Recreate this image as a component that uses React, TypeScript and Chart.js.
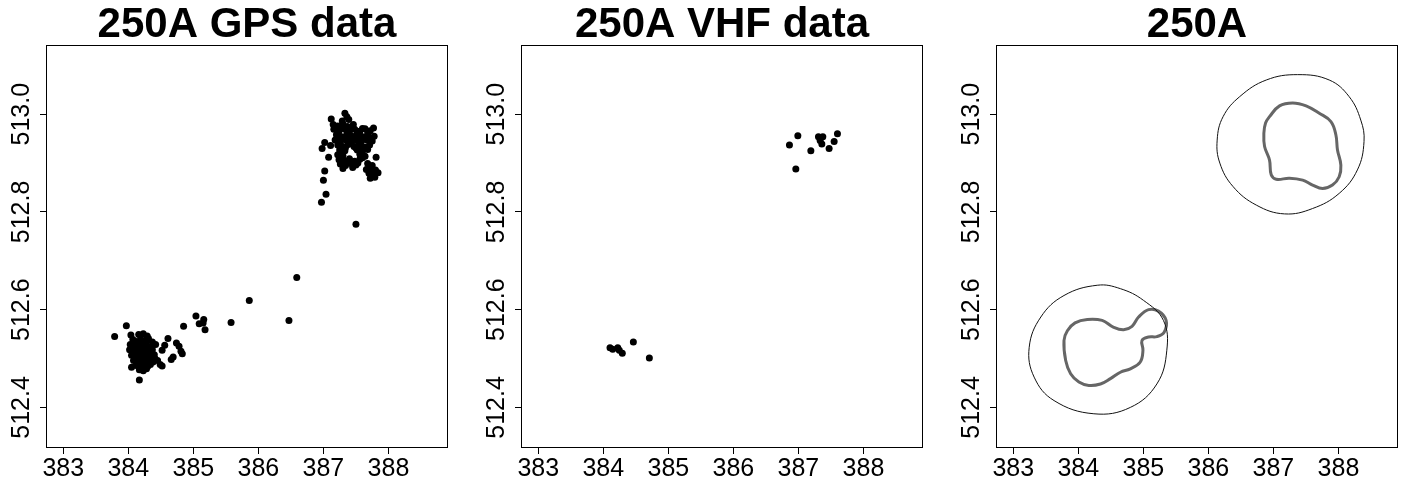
import React, { useEffect, useRef } from "react";
import { Chart, registerables } from "chart.js";
Chart.register(...registerables);

const FONT = "'Liberation Sans', Arial, sans-serif";

const titles = ["250A GPS data", "250A VHF data", "250A"];
const xTicks = [383, 384, 385, 386, 387, 388];
const yTicks = [512.4, 512.6, 512.8, 513.0];
const xRange = [382.75, 388.9];
const yRange = [512.319, 513.14];

// GPS fixes (x, y)
const gpsPoints: [number, number][] = [
  [383.79, 512.545], [383.97, 512.567], [384.04, 512.548], [384.05, 512.482], [384.17, 512.456],
  [384.16, 512.549], [384.23, 512.551], [384.29, 512.546],
  [384.07, 512.539], [384.12, 512.535], [384.19, 512.54], [384.25, 512.536], [384.31, 512.541], [384.37, 512.534],
  [384.03, 512.529], [384.1, 512.525], [384.16, 512.53], [384.22, 512.524], [384.28, 512.528], [384.34, 512.523], [384.42, 512.529],
  [384.02, 512.518], [384.07, 512.514], [384.13, 512.519], [384.19, 512.513], [384.25, 512.517], [384.31, 512.512], [384.37, 512.518],
  [384.05, 512.507], [384.11, 512.503], [384.17, 512.508], [384.23, 512.502], [384.29, 512.506], [384.35, 512.501], [384.4, 512.508],
  [384.08, 512.496], [384.14, 512.492], [384.2, 512.497], [384.26, 512.491], [384.32, 512.495], [384.38, 512.493], [384.45, 512.496],
  [384.12, 512.486], [384.18, 512.482], [384.24, 512.487], [384.3, 512.484], [384.49, 512.488], [384.52, 512.485],
  [384.17, 512.477], [384.23, 512.475], [384.28, 512.479],
  [384.1, 512.532], [384.2, 512.529], [384.27, 512.533], [384.08, 512.522], [384.16, 512.521], [384.28, 512.52],
  [384.1, 512.511], [384.21, 512.51], [384.33, 512.509], [384.13, 512.5], [384.26, 512.499], [384.35, 512.514],
  [384.16, 512.49], [384.22, 512.494], [384.34, 512.488], [384.41, 512.5],
  [384.56, 512.527], [384.52, 512.517], [384.61, 512.541], [384.74, 512.532], [384.78, 512.525], [384.81, 512.515],
  [384.83, 512.51], [384.69, 512.503], [384.66, 512.498], [384.85, 512.566],
  [385.04, 512.587], [385.09, 512.571], [385.16, 512.58], [385.15, 512.573], [385.18, 512.559],
  [385.58, 512.574], [385.86, 512.619], [386.47, 512.578], [386.59, 512.666],
  [387.5, 512.775], [386.97, 512.82], [387.04, 512.836], [387.0, 512.865], [387.02, 512.884], [387.08, 512.912],
  [386.98, 512.93], [387.02, 512.942], [387.11, 512.936], [387.12, 512.99],
  [387.33, 513.002], [387.36, 512.995], [387.29, 512.986], [387.39, 512.989],
  [387.15, 512.979], [387.22, 512.976], [387.3, 512.98], [387.37, 512.975], [387.46, 512.979],
  [387.16, 512.969], [387.24, 512.965], [387.32, 512.97], [387.4, 512.964], [387.48, 512.969], [387.56, 512.964], [387.64, 512.97], [387.72, 512.966], [387.77, 512.972],
  [387.2, 512.958], [387.28, 512.954], [387.36, 512.959], [387.44, 512.955], [387.52, 512.959], [387.6, 512.954], [387.68, 512.958], [387.78, 512.955],
  [387.18, 512.947], [387.26, 512.944], [387.34, 512.948], [387.42, 512.943], [387.5, 512.948], [387.58, 512.944], [387.66, 512.948], [387.75, 512.945],
  [387.22, 512.937], [387.3, 512.934], [387.38, 512.938], [387.47, 512.934], [387.54, 512.938], [387.62, 512.933], [387.71, 512.937],
  [387.25, 512.927], [387.33, 512.925], [387.52, 512.927], [387.6, 512.924], [387.68, 512.928],
  [387.22, 512.917], [387.3, 512.915], [387.56, 512.918], [387.64, 512.914],
  [387.24, 512.907], [387.32, 512.905], [387.4, 512.909], [387.48, 512.904], [387.56, 512.908], [387.81, 512.912],
  [387.26, 512.898], [387.34, 512.895], [387.42, 512.899], [387.5, 512.896], [387.68, 512.899], [387.75, 512.895],
  [387.3, 512.889], [387.45, 512.891], [387.66, 512.887], [387.73, 512.889], [387.8, 512.886],
  [387.7, 512.879], [387.77, 512.877], [387.84, 512.88],
  [387.72, 512.869], [387.79, 512.871],
  [387.2, 512.974], [387.28, 512.972], [387.36, 512.966], [387.44, 512.973], [387.52, 512.965], [387.6, 512.971], [387.68, 512.964],
  [387.23, 512.951], [387.31, 512.95], [387.39, 512.952], [387.47, 512.951], [387.55, 512.95], [387.63, 512.952], [387.71, 512.951],
  [387.26, 512.931], [387.34, 512.932], [387.5, 512.931], [387.58, 512.932], [387.66, 512.933], [387.43, 512.941],
  [387.29, 512.902], [387.37, 512.901], [387.45, 512.902], [387.53, 512.9], [387.27, 512.92], [387.6, 512.911],
  [387.72, 512.883], [387.79, 512.882], [387.7, 512.892],
];

// VHF fixes (x, y)
const vhfPoints: [number, number][] = [
  [384.103, 512.522], [384.145, 512.519], [384.222, 512.522], [384.246, 512.517], [384.292, 512.511],
  [384.462, 512.534], [384.708, 512.501],
  [386.862, 512.937], [386.991, 512.956], [386.96, 512.888], [387.191, 512.925], [387.308, 512.954],
  [387.375, 512.954], [387.334, 512.946], [387.36, 512.939], [387.472, 512.93], [387.549, 512.944], [387.6, 512.96],
];

// Outer (thin) and core (thick) contours, south-west and north-east
const outerSW: [number, number][] = [
  [384.291, 512.65], [384.647, 512.643], [385.003, 512.619], [385.309, 512.578], [385.361, 512.517],
  [385.208, 512.448], [384.8, 512.4], [384.239, 512.387], [383.627, 512.414], [383.321, 512.462],
  [383.245, 512.523], [383.424, 512.585], [383.78, 512.629],
];
const coreSW: [number, number][] = [
  [384.138, 512.58], [384.367, 512.578], [384.544, 512.564], [384.697, 512.559], [384.826, 512.566],
  [384.927, 512.585], [385.08, 512.6], [385.232, 512.597], [385.35, 512.578], [385.32, 512.554],
  [385.208, 512.545], [385.08, 512.544], [384.979, 512.537], [384.994, 512.517], [384.953, 512.493],
  [384.8, 512.479], [384.647, 512.472], [384.494, 512.459], [384.341, 512.448], [384.162, 512.445],
  [384.009, 512.452], [383.882, 512.469], [383.806, 512.496], [383.78, 512.537], [383.832, 512.557],
  [383.95, 512.573],
];
const outerNE: [number, number][] = [
  [387.373, 513.081], [387.858, 513.07], [388.164, 513.036], [388.343, 512.988], [388.393, 512.944],
  [388.291, 512.886], [388.011, 512.838], [387.602, 512.807], [387.17, 512.796], [386.737, 512.814],
  [386.379, 512.852], [386.176, 512.9], [386.135, 512.947], [386.226, 512.995], [386.482, 513.036],
  [386.89, 513.07],
];
const coreNE: [number, number][] = [
  [387.297, 513.023], [387.502, 513.017], [387.705, 513.002], [387.884, 512.985], [387.96, 512.958],
  [387.985, 512.927], [388.037, 512.896], [388.011, 512.872], [387.908, 512.855], [387.755, 512.848],
  [387.602, 512.855], [387.45, 512.865], [387.246, 512.869], [387.043, 512.867], [386.966, 512.876],
  [386.94, 512.906], [386.864, 512.934], [386.853, 512.961], [386.879, 512.982], [386.94, 512.995],
  [387.094, 513.017],
];

const toXY = (pts: [number, number][]) => pts.map(([x, y]) => ({ x, y }));

const dotSet = (pts: [number, number][]) => ({
  data: toXY(pts),
  pointRadius: 3.5,
  pointBackgroundColor: "#000",
  pointBorderWidth: 0,
  showLine: false,
});

// closed smooth loop: one point wrapped on each side, outer two segments hidden
const lineSet = (pts: [number, number][], color: string, width: number) => {
  const data = toXY([pts[pts.length - 1], ...pts, pts[0], pts[1]]);
  const last = data.length - 1;
  return {
    data,
    showLine: true,
    borderColor: color,
    borderWidth: width,
    pointRadius: 0,
    tension: 0.4,
    fill: false,
    segment: {
      borderColor: (c: any) =>
        c.p0DataIndex === 0 || c.p1DataIndex === last ? "rgba(0,0,0,0)" : undefined,
    },
  };
};

const panelData = [
  [dotSet(gpsPoints)],
  [dotSet(vhfPoints)],
  [
    lineSet(outerSW, "#111", 1),
    lineSet(outerNE, "#111", 1),
    lineSet(coreSW, "#666", 3),
    lineSet(coreNE, "#666", 3),
  ],
];

const boxPlugin = {
  id: "box",
  afterDraw(chart: any) {
    const { ctx, chartArea } = chart;
    ctx.save();
    ctx.strokeStyle = "#000";
    ctx.lineWidth = 1;
    ctx.strokeRect(
      Math.round(chartArea.left) - 0.5,
      Math.round(chartArea.top) - 0.5,
      Math.round(chartArea.right - chartArea.left) + 1,
      Math.round(chartArea.bottom - chartArea.top) + 1
    );
    ctx.restore();
  },
};

const PANEL_W = 475;
const H = 477;

function Panel({ index }: { index: number }) {
  const ref = useRef<HTMLCanvasElement>(null);
  const left = index * PANEL_W;
  const width = Math.min(PANEL_W, 1402 - left);
  useEffect(() => {
    const chart = new Chart(ref.current as HTMLCanvasElement, {
      type: "scatter",
      data: { datasets: panelData[index] as any },
      options: {
        animation: false,
        responsive: false,
        events: [],
        devicePixelRatio: 1,
        layout: { padding: { top: 0, right: width - 447, bottom: 0, left: 0 } },
        plugins: {
          legend: { display: false },
          tooltip: { enabled: false },
          title: {
            display: true,
            fullSize: false,
            text: titles[index],
            color: "#000",
            font: { family: FONT, size: 42, weight: "bold", lineHeight: 0.9 },
            padding: { top: 7, bottom: 1 },
          },
        },
        scales: {
          x: {
            type: "linear",
            min: xRange[0],
            max: xRange[1],
            afterBuildTicks: (s: any) => {
              s.ticks = xTicks.map((v) => ({ value: v }));
            },
            afterFit: (s: any) => {
              s.height = 30;
            },
            grid: { display: true, drawOnChartArea: false, drawTicks: true, tickLength: 7, color: "#000" },
            border: { display: false },
            ticks: {
              autoSkip: false,
              maxRotation: 0,
              color: "#000",
              padding: 0,
              font: { family: FONT, size: 25 },
              callback: (v: any) => String(v),
            },
          },
          y: {
            type: "linear",
            min: yRange[0],
            max: yRange[1],
            afterBuildTicks: (s: any) => {
              s.ticks = yTicks.map((v) => ({ value: v }));
            },
            afterFit: (s: any) => {
              s.width = 47;
            },
            grid: { display: true, drawOnChartArea: false, drawTicks: true, tickLength: 7, color: "#000" },
            border: { display: false },
            ticks: {
              autoSkip: false,
              minRotation: 90,
              maxRotation: 90,
              crossAlign: "center",
              padding: -13.8,
              color: "#000",
              font: { family: FONT, size: 25 },
              callback: (v: any) => Number(v).toFixed(1),
            },
          },
        },
      },
      plugins: [boxPlugin],
    } as any);
    return () => chart.destroy();
  }, [index, width]);
  return (
    <canvas
      ref={ref}
      width={width}
      height={H}
      style={{ position: "absolute", left, top: 0, width, height: H }}
    />
  );
}

export default function App() {
  return (
    <div style={{ position: "fixed", left: 0, top: 0, width: 1402, height: H, background: "#fff" }}>
      {[0, 1, 2].map((i) => (
        <Panel key={i} index={i} />
      ))}
    </div>
  );
}
